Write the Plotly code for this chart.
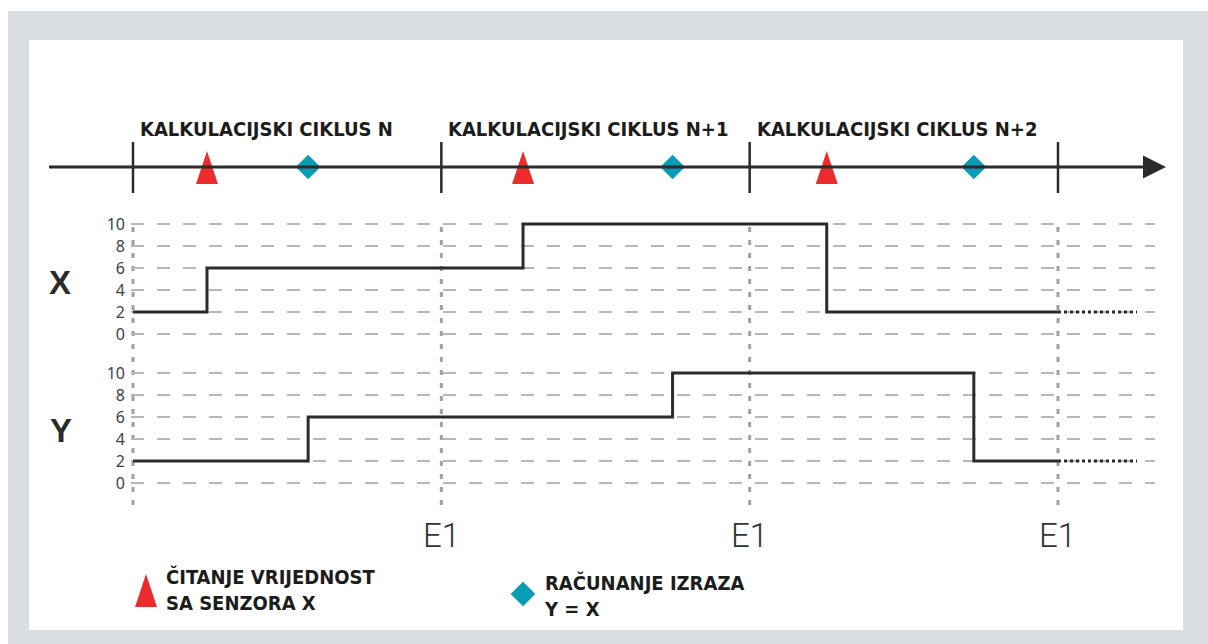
#!/usr/bin/env python3
"""
Timing diagram: sensor read vs. expression evaluation per calculation cycle
"""

import plotly.graph_objects as go

# cycle boundaries (in cycles) and their labels
cycle_bounds = [0, 1, 2, 3]
cycle_names = ["KALKULACIJSKI CIKLUS N", "KALKULACIJSKI CIKLUS N+1",
               "KALKULACIJSKI CIKLUS N+2"]
bound_labels = ["E1", "E1", "E1"]

# event times inside the cycles
read_times = [0.24, 1.265, 2.25]     # reading the value from sensor X
calc_times = [0.568, 1.75, 2.727]    # evaluating Y = X

# signal values
x_start = 2
x_after_read = [6, 10, 2]
y_start = 2
y_after_calc = [6, 10, 2]
value_ticks = [0, 2, 4, 6, 8, 10]

legend_read = "ČITANJE VRIJEDNOST<br>SA SENZORA X"
legend_calc = "RAČUNANJE IZRAZA<br>Y = X"

W, H = 1208, 644
AXIS_PX = 133          # pixel of cycle 0
CYCLE_PX = 308.33      # pixels per cycle
INK = "#2b2b2b"
RED = "#ec2c2c"
TEAL = "#0a9bb5"
BOLD = "DejaVu Sans Condensed, Arial Narrow, sans-serif"


def px(p):
    return p / W


def py(p):
    return 1 - p / H


def cyc(p):
    # pixel -> cycles
    return (p - AXIS_PX) / CYCLE_PX


def main():
    fig = go.Figure()
    shapes = []

    # frame and white panel
    shapes.append(dict(type="rect", xref="paper", yref="paper", layer="below",
                       x0=px(8), x1=1, y0=0, y1=py(11),
                       fillcolor="#d8dee2", line=dict(width=0)))
    shapes.append(dict(type="rect", xref="paper", yref="paper", layer="below",
                       x0=px(29), x1=px(1183), y0=py(630), y1=py(40),
                       fillcolor="white", line=dict(width=0)))

    # dashed gridlines for both panels
    for yref in ["y", "y2"]:
        for v in value_ticks:
            shapes.append(dict(type="line", xref="x", yref=yref, layer="below",
                               x0=cyc(131), x1=cyc(1155), y0=v, y1=v,
                               line=dict(color="#b4b8bd", width=2,
                                         dash="13px,13px")))

    # dotted vertical lines at cycle boundaries
    for b in cycle_bounds:
        shapes.append(dict(type="line", xref="x", yref="paper", layer="below",
                           x0=b, x1=b, y0=py(505), y1=py(222),
                           line=dict(color="#9ca1a7", width=3,
                                     dash="5px,8px")))

    # time axis with ticks and arrow
    shapes.append(dict(type="line", xref="x", yref="y3",
                       x0=cyc(49), x1=cyc(1150), y0=0, y1=0,
                       line=dict(color=INK, width=3)))
    for b in cycle_bounds:
        shapes.append(dict(type="line", xref="x", yref="y3",
                           x0=b, x1=b, y0=-26, y1=25,
                           line=dict(color=INK, width=2.5)))
    shapes.append(dict(type="path", xref="x", yref="y3",
                       path=f"M {cyc(1143)},11.5 L {cyc(1166)},0 "
                            f"L {cyc(1143)},-11.5 Z",
                       fillcolor=INK, line=dict(width=0)))

    # legend triangle
    shapes.append(dict(type="path", xref="paper", yref="paper",
                       path=f"M {px(135)},{py(607)} L {px(146)},{py(574)} "
                            f"L {px(157)},{py(607)} Z",
                       fillcolor=RED, line=dict(width=0)))

    # sensor read triangles on the time axis
    hw = 11 / CYCLE_PX
    tx, ty = [], []
    for t in read_times:
        tx += [t - hw, t, t + hw, None]
        ty += [-17, 16, -17, None]
    fig.add_trace(go.Scatter(x=tx, y=ty, yaxis="y3", mode="lines",
                             fill="toself", fillcolor=RED,
                             line=dict(width=0), hoverinfo="skip"))

    # evaluation diamonds on the time axis
    fig.add_trace(go.Scatter(x=calc_times, y=[0] * len(calc_times),
                             yaxis="y3", mode="markers",
                             marker=dict(symbol="diamond", size=19,
                                         color=TEAL)))

    # X signal
    xs = [cycle_bounds[0]] + read_times + [cycle_bounds[-1]]
    xv = [x_start] + x_after_read + [x_after_read[-1]]
    fig.add_trace(go.Scatter(x=xs, y=xv, yaxis="y", mode="lines",
                             line=dict(color=INK, width=3, shape="hv")))
    fig.add_trace(go.Scatter(x=[cycle_bounds[-1], cyc(1137)],
                             y=[xv[-1], xv[-1]], yaxis="y", mode="lines",
                             line=dict(color=INK, width=3, dash="dot")))

    # Y signal
    ys = [cycle_bounds[0]] + calc_times + [cycle_bounds[-1]]
    yv = [y_start] + y_after_calc + [y_after_calc[-1]]
    fig.add_trace(go.Scatter(x=ys, y=yv, yaxis="y2", mode="lines",
                             line=dict(color=INK, width=3, shape="hv")))
    fig.add_trace(go.Scatter(x=[cycle_bounds[-1], cyc(1137)],
                             y=[yv[-1], yv[-1]], yaxis="y2", mode="lines",
                             line=dict(color=INK, width=3, dash="dot")))

    # legend diamond
    fig.add_trace(go.Scatter(x=[cyc(523)], y=[py(594)], yaxis="y4",
                             mode="markers",
                             marker=dict(symbol="diamond", size=19,
                                         color=TEAL)))

    annotations = []
    for b, name in zip(cycle_bounds, cycle_names):
        annotations.append(dict(x=b, y=py(129), xref="x", yref="paper",
                                text=name, showarrow=False, xanchor="left",
                                yanchor="middle", xshift=5,
                                font=dict(family=BOLD, size=20, color="#1c1c1c",
                                          weight="bold")))
    for b, lab in zip(cycle_bounds[1:], bound_labels):
        annotations.append(dict(x=b, y=py(535), xref="x", yref="paper",
                                text=lab, showarrow=False, xanchor="center",
                                yanchor="middle",
                                font=dict(family="Roboto, sans-serif",
                                          size=33, color="#303338",
                                          weight=300)))
    for lab, cx, cy in [("X", 60, 282), ("Y", 61, 430)]:
        annotations.append(dict(x=px(cx), y=py(cy), xref="paper", yref="paper",
                                text=lab, showarrow=False, xanchor="center",
                                yanchor="middle",
                                font=dict(family="Liberation Sans, Arial, sans-serif",
                                          size=33, color=INK, weight="bold")))
    annotations.append(dict(x=px(164), y=py(590), xref="paper", yref="paper",
                            text=legend_read, showarrow=False, xanchor="left",
                            yanchor="middle", align="left",
                            font=dict(family=BOLD, size=20, color="#1c1c1c",
                                      weight="bold")))
    annotations.append(dict(x=px(542), y=py(596), xref="paper", yref="paper",
                            text=legend_calc, showarrow=False, xanchor="left",
                            yanchor="middle", align="left",
                            font=dict(family=BOLD, size=20, color="#1c1c1c",
                                      weight="bold")))

    yax = dict(range=[-1, 11], tickvals=value_ticks, showgrid=False,
               zeroline=False, showline=False, ticks="", anchor="free",
               position=px(AXIS_PX), automargin=False, fixedrange=True,
               ticklabelstandoff=8,
               tickfont=dict(family="Noto Sans, sans-serif", size=16,
                             color="#3c4149"))

    fig.update_layout(
        width=W, height=H, template="none", showlegend=False,
        margin=dict(l=0, r=0, t=0, b=0),
        paper_bgcolor="white", plot_bgcolor="rgba(0,0,0,0)",
        xaxis=dict(range=[cyc(0), cyc(W)], visible=False, fixedrange=True),
        yaxis=dict(domain=[py(345), py(213)], **yax),
        yaxis2=dict(domain=[py(494), py(362)], **yax),
        yaxis3=dict(domain=[py(197), py(137)], range=[-30, 30],
                    visible=False, fixedrange=True),
        yaxis4=dict(domain=[0, 1], range=[0, 1], visible=False,
                    anchor="x", fixedrange=True),
        shapes=shapes, annotations=annotations,
    )
    # drop the default body margin so the figure fills the window exactly
    fig.write_html("out.html", config={"displayModeBar": False},
                   post_script="document.body.style.margin = '0';"
                               "document.documentElement.style.overflow = 'hidden';")


if __name__ == "__main__":
    main()
